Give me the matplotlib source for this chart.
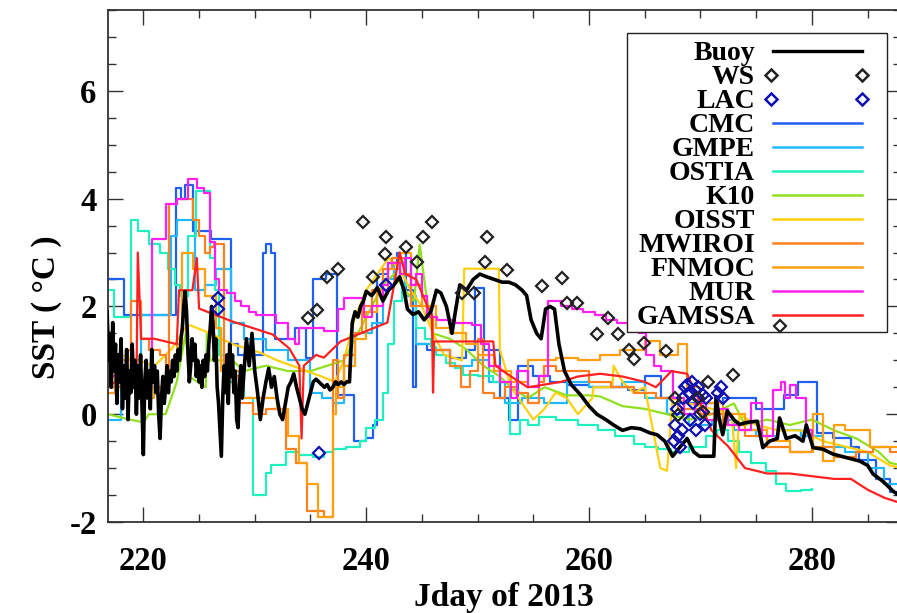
import numpy as np
import matplotlib
matplotlib.use("Agg")
import matplotlib.pyplot as plt
from matplotlib.patches import Rectangle

# ---- data ------------------------------------------------------------------
# buoy, noisiest part (every 0.125 day from day 216.75)
buoy_start_a = 216.75
buoy_sst_a = [1.9, 1.0, 1.5, 0.5, 1.7, 0.8, 1.3, 0.2, 1.1, 0.6,
              1.4, 0.1, 0.9, 0.3, 1.2, -0.1, 0.8, 0.4, 1.3, 0.5,
              1.0, 0.0, 0.9, 0.3, 1.1, 0.2, -0.75, 0.6, 1.0, 0.3,
              0.8, 0.1, 1.2, 0.6, 0.9, 0.4, 0.8, 0.0, -0.45, 0.3,
              0.7, 0.2, 0.5, 0.9, 0.4, 0.8, 0.6, 1.0, 0.7, 1.1,
              0.8, 1.2, 1.0, 1.4, 1.6, 2.0, 2.28, 1.9, 1.2, 0.6,
              0.9, 1.4, 1.0, 1.3, 0.7, 1.0, 0.6, 0.9, 0.5, 1.0,
              0.7, 1.1, 0.8, 1.3, 1.6, 2.0, 1.7, 1.0, 1.4, 0.5,
              0.2, -0.3, -0.78, 0.3, 0.9, 0.4, 1.1, 0.2, 1.3, 0.7,
              1.1, 0.4, 0.8, -0.1, -0.25, 0.5, 0.9, 0.3, 0.7]
# buoy, every 0.25 day from day 229.25
buoy_start_b = 229.25
buoy_sst_b = [1.4, 0.9, 1.5, 0.8, 0.4, -0.1, 0.3, 0.6, 0.85, 0.5,
              0.7, 0.3, 0.0, -0.1, 0.2, 0.5, 0.6, 0.75, 0.5, 0.3,
              0.1, 0.0, 0.2, 0.4, 0.6, 0.65, 0.6, 0.55, 0.5, 0.55,
              0.45, 0.5, 0.6, 0.55, 0.6, 0.55, 0.6, 0.6, 1.7, 1.9,
              1.8, 2.0, 2.1, 2.28]
# buoy, rest of the record
buoy_day_c = [240.5, 241.0, 241.5, 242.0, 242.5, 243.0, 243.4, 243.7, 244.2, 244.7,
              245.2, 245.8, 246.3, 246.7, 247.2, 247.7, 248.0, 248.4, 249.0, 249.6,
              250.2, 250.8, 251.5, 252.2, 252.8, 253.4, 254.0, 254.4, 254.8, 255.3,
              255.7, 256.1, 256.5, 256.9, 257.3, 257.8, 258.4, 259.2, 260.0, 260.7,
              261.5, 262.2, 263.0, 263.8, 264.6, 265.5, 266.1, 266.8, 267.5, 268.2,
              268.8, 269.4, 269.9, 270.5, 271.2, 271.4, 271.7, 272.0, 272.4, 273.0,
              273.5, 274.2, 275.1, 275.6, 276.2, 276.9, 277.1, 277.7, 278.5, 279.2,
              279.5, 280.1, 281.0, 281.9, 283.0, 284.3, 285.0, 285.5, 286.4, 287.3,
              287.8]
buoy_sst_c = [2.2, 2.35, 2.1, 2.3, 2.4, 2.55, 2.3, 1.95, 1.85, 1.9,
              1.75, 1.9, 2.3, 2.25, 2.0, 1.5, 1.9, 2.4, 2.3, 2.5,
              2.6, 2.55, 2.5, 2.45, 2.45, 2.4, 2.3, 2.2, 1.75, 1.5,
              1.4, 1.95, 2.0, 1.95, 1.3, 0.8, 0.55, 0.37, 0.15, 0.0,
              -0.1, -0.2, -0.3, -0.25, -0.27, -0.35, -0.38, -0.5, -0.78, -0.6,
              -0.45, -0.7, -0.78, -0.78, -0.78, 0.33, -0.1, -0.38, 0.06, -0.1,
              -0.19, -0.15, -0.13, -0.62, -0.5, -0.45, -0.07, -0.45, -0.4, -0.5,
              -0.2, -0.62, -0.65, -0.74, -0.8, -0.87, -0.95, -1.11, -1.25, -1.43,
              -1.5]

ws_day = [234.8, 235.6, 236.5, 237.5, 239.7, 240.6, 241.7, 241.8, 243.6, 244.6,
          245.1, 245.9, 248.6, 249.7, 250.7, 250.8, 252.6, 255.8, 257.6, 258.0,
          258.9, 260.7, 261.7, 262.6, 263.6, 264.0, 264.9, 266.9, 267.7, 268.0,
          269.8, 270.2, 270.7, 272.9, 277.1]
ws_sst = [1.78, 1.94, 2.54, 2.7, 3.57, 2.54, 2.98, 3.28, 3.11, 2.83,
          3.28, 3.57, 2.24, 2.24, 2.83, 3.28, 2.68, 2.37, 2.52, 2.06,
          2.06, 1.48, 1.78, 1.48, 1.2, 1.02, 1.33, 1.18, 0.3, -0.02,
          0.3, 0.05, 0.6, 0.72, 1.63]

lac_day = [226.7, 226.7, 235.8, 241.8, 267.6, 267.7, 267.9, 268.0, 268.2, 268.3,
           268.4, 268.6, 268.8, 269.0, 269.1, 269.2, 269.3, 269.5, 269.6, 269.8,
           270.0, 270.2, 270.4, 270.5, 271.6, 271.8, 272.0]
lac_sst = [2.15, 1.96, -0.72, 2.4, -0.5, -0.2, 0.1, -0.4, -0.6, -0.3,
           0.3, 0.5, 0.55, 0.4, -0.1, 0.6, 0.2, 0.45, -0.3, 0.5,
           0.0, 0.35, -0.2, 0.3, 0.4, 0.5, 0.3]

cmc_day = [216.8, 218.3, 222.9, 223.4, 223.7, 224.5, 226.1, 227.9, 228.5, 230.7,
           231.0, 231.5, 231.8, 233.6, 234.6, 235.2, 236.4, 237.4, 238.9, 240.0,
           240.6, 241.0, 242.0, 242.8, 243.6, 244.2, 244.5, 245.5, 247.5, 249.0,
           249.8, 250.6, 252.0, 252.8, 253.6, 255.0, 256.5, 258.0, 260.0, 263.5,
           265.0, 266.5, 268.0, 272.0, 275.0, 277.5, 278.8, 280.5, 281.9, 283.5,
           284.2, 285.8, 287.0, 288.0]
cmc_sst = [2.5, 1.85, 4.2, 4.0, 4.25, 3.4, 3.25, 1.3, 1.1, 3.0,
           3.15, 3.0, 1.4, 1.6, 1.05, 2.5, 2.6, 0.36, -0.5, -0.45,
           -0.2, 2.6, 2.8, 3.0, 2.3, 0.5, 1.3, 1.2, 1.05, 1.2,
           2.35, 1.2, 0.3, -0.1, 0.9, 0.7, 0.6, 0.55, 0.5, 0.45,
           0.7, 0.3, 0.2, 0.3, 0.1, 0.35, 0.6, -0.35, -0.45, -0.6,
           -0.85, -1.2, -1.45, -1.5]

gmpe_day = [216.8, 218.0, 219.0, 219.8, 222.5, 223.0, 224.6, 225.5, 226.5, 227.9,
            229.0, 231.0, 233.0, 235.0, 236.0, 237.0, 238.0, 239.0, 240.5, 241.5,
            242.5, 243.5, 244.5, 246.0, 247.5, 249.5, 251.0, 252.5, 254.0, 256.0,
            258.0, 260.0, 263.0, 265.0, 267.0, 269.0, 271.0, 273.0, 275.0, 277.0,
            279.0, 281.0, 283.0, 285.0, 286.5, 288.0]
gmpe_sst = [-0.1, 0.5, 1.0, 1.85, 3.3, 3.6, 2.3, 2.4, 2.7, 1.7,
            1.4, 1.2, 1.0, 0.4, 0.3, 0.2, 0.9, 1.5, 1.7, 2.5,
            2.8, 2.2, 1.3, 1.2, 0.9, 1.0, 0.6, 0.2, 0.3, 0.2,
            0.6, 0.5, 0.6, 0.3, 0.0, -0.2, -0.1, -0.3, -0.4, -0.3,
            -0.4, -0.6, -0.7, -1.0, -1.3, -1.5]

ostia_day = [216.8, 217.4, 218.9, 219.5, 220.5, 221.5, 222.2, 222.8, 223.3, 224.0,
             224.7, 226.0, 226.4, 226.8, 227.5, 228.2, 229.0, 229.8, 231.0, 231.5,
             232.8, 234.0, 235.2, 236.2, 237.0, 238.2, 239.4, 240.0, 240.8, 241.5,
             242.0, 242.5, 243.2, 244.0, 244.5, 245.3, 245.8, 246.3, 247.2, 248.0,
             248.7, 250.0, 251.4, 252.9, 253.8, 254.5, 255.5, 257.0, 259.0, 260.8,
             262.3, 264.0, 265.0, 266.2, 267.4, 269.0, 270.5, 271.5, 272.5, 273.5,
             274.5, 275.9, 276.8, 277.7, 279.0, 280.0]
ostia_sst = [2.3, 1.8, 3.6, 3.4, 3.15, 3.0, 2.7, 2.4, 2.2, 3.3,
             4.15, 2.9, 2.3, 1.1, 0.6, 0.5, 0.3, -1.5, -1.1, -0.95,
             -0.7, -0.75, -0.8, -0.7, -0.65, -0.6, -0.5, -0.25, -0.1, 0.4,
             1.3, 2.1, 2.4, 2.0, 1.6, 1.4, 1.25, 1.1, 0.95, 0.85,
             0.72, 0.7, 0.6, -0.37, -0.1, -0.2, -0.05, -0.1, -0.2, -0.3,
             -0.4, -0.55, -0.6, -0.65, -0.7, -0.6, -0.4, -0.3, -0.5, -0.7,
             -0.9, -1.06, -1.3, -1.42, -1.4, -1.38]

k10_day = [216.8, 218.8, 220.0, 220.5, 222.0, 223.0, 223.8, 224.1, 225.6, 225.7,
           226.0, 228.0, 229.0, 231.0, 233.0, 235.0, 236.5, 238.0, 239.5, 240.5,
           241.5, 242.5, 243.5, 244.3, 244.8, 245.4, 246.0, 247.5, 249.0, 250.5,
           252.0, 253.0, 254.5, 256.0, 258.0, 260.0, 261.0, 263.0, 265.0, 267.0,
           269.0, 271.0, 273.0, 274.0, 276.0, 278.0, 280.0, 282.0, 284.0, 286.0,
           287.0, 288.0]
k10_sst = [0.0, -0.1, -0.15, 0.0, 0.0, 0.6, 1.5, 0.7, 0.5, 1.5,
           1.0, 1.0, 0.8, 0.9, 0.8, 0.8, 0.9, 1.0, 1.6, 2.0,
           2.4, 2.6, 2.3, 2.1, 3.15, 2.2, 1.5, 1.4, 1.2, 0.9,
           0.7, 0.5, 0.3, 0.5, 0.35, 0.35, 0.33, 0.15, 0.1, 0.0,
           -0.1, 0.0, 0.2, -0.2, -0.1, -0.2, -0.1, -0.3, -0.45, -0.7,
           -0.9, -0.95]

oisst_day = [216.8, 218.0, 219.5, 221.0, 222.5, 223.8, 224.2, 226.0, 228.0, 230.4,
             232.0, 234.0, 236.0, 237.2, 238.0, 239.0, 240.0, 241.0, 242.0, 243.0,
             244.0, 245.0, 246.0, 247.0, 248.6, 248.8, 251.9, 252.0, 253.0, 254.0,
             255.0, 256.0, 257.0, 258.0, 259.0, 260.3, 260.4, 262.1, 262.2, 263.0,
             264.0, 265.0, 266.4, 267.0, 267.5, 269.0, 271.0, 272.8, 273.2, 273.5,
             275.0, 277.0, 279.0, 281.0, 283.0, 285.0, 287.0, 288.0]
oisst_sst = [1.0, 1.1, 1.0, 0.9, 1.2, 1.6, 1.65, 1.5, 1.3, 1.15,
             1.0, 0.85, 0.7, 0.6, 1.0, 1.8, 2.3, 2.6, 2.9, 2.7,
             2.3, 2.0, 1.5, 1.1, 1.0, 2.7, 2.7, 1.2, 0.5, 0.2,
             -0.1, 0.1, 0.4, 0.3, 0.0, 0.3, 0.5, 0.5, 0.9, 0.6,
             0.4, 0.5, -1.0, -1.05, 0.3, 0.2, 0.1, 0.0, -1.0, 0.0,
             -0.2, -0.3, -0.3, -0.5, -0.6, -0.7, -0.95, -1.0]

mwiroi_day = [216.8, 218.6, 218.9, 219.8, 220.5, 221.5, 222.0, 222.3, 223.0, 224.5,
              225.0, 225.5, 226.0, 226.3, 227.2, 228.6, 229.8, 231.0, 232.8, 233.7,
              234.7, 236.2, 237.0, 237.5, 238.0, 239.0, 239.6, 240.5, 241.5, 242.3,
              243.5, 244.0, 245.5, 246.0, 247.5, 248.5, 249.3, 250.0, 250.5, 251.5,
              252.5, 253.5, 254.5, 255.5, 256.0, 257.0, 258.0, 260.0, 262.0, 264.0,
              266.0, 268.0, 270.0, 272.0, 274.0, 276.0, 278.0, 280.0, 282.0, 284.0,
              285.5, 287.0, 288.0]
mwiroi_sst = [0.5, 1.2, 2.1, 1.4, 1.2, 1.1, 0.8, 3.9, 4.0, 3.6,
              3.3, 3.0, 3.1, 3.15, 0.7, 0.2, 0.0, 0.1, -0.65, -0.9,
              -1.8, -1.9, 1.0, 0.3, 1.1, 1.5, 2.0, 2.3, 2.7, 2.9,
              2.6, 2.0, 1.8, 1.2, 0.9, 0.5, 0.8, 1.4, 0.4, 0.3,
              0.5, 0.4, 0.2, 0.6, 0.9, 0.8, 0.8, 0.6, 0.5, 0.4,
              0.3, 0.1, 0.0, -0.2, -0.4, -0.6, -0.7, -0.6, -0.8, -0.7,
              -0.6, -0.7, -0.8]

fnmoc_day = [216.8, 217.5, 219.0, 220.0, 221.0, 222.0, 223.0, 223.5, 224.5, 225.5,
             226.5, 227.0, 228.9, 231.0, 232.0, 233.0, 234.0, 234.7, 235.7, 237.0,
             237.3, 238.0, 239.0, 240.0, 241.0, 242.0, 243.0, 244.0, 245.0, 246.3,
             247.5, 249.0, 250.0, 251.5, 253.0, 254.5, 256.0, 257.0, 259.0, 261.0,
             262.8, 265.0, 266.4, 268.0, 268.8, 270.0, 272.0, 274.0, 276.0, 278.0,
             280.1, 281.0, 282.0, 283.0, 285.2, 288.0]
fnmoc_sst = [0.4, 1.0, 0.5, 0.3, 0.5, 0.8, 1.3, 3.0, 2.7, 2.2,
             1.6, 0.8, 0.3, 0.3, 0.1, -0.4, -0.9, -1.3, -1.9, 0.0,
             0.5, 0.9, 1.4, 1.9, 2.3, 2.7, 3.0, 2.4, 2.0, 1.6,
             1.5, 1.3, 1.1, 0.8, 0.6, 1.0, 1.0, 1.05, 1.0, 1.1,
             1.2, 1.35, 1.1, 1.3, 0.5, 0.2, 0.0, -0.3, -0.5, -0.7,
             0.0, -0.87, -0.2, -0.3, -0.6, -0.7]

mur_day = [216.8, 219.5, 220.3, 220.8, 222.0, 223.0, 224.0, 224.8, 225.4, 226.0,
           226.4, 226.8, 227.5, 228.2, 228.8, 229.5, 230.1, 231.9, 233.0, 233.6,
           234.0, 236.2, 237.5, 238.0, 239.8, 240.5, 241.5, 242.0, 243.0, 243.5,
           244.0, 244.5, 245.0, 245.5, 246.4, 248.0, 249.5, 250.3, 251.0, 252.0,
           253.0, 253.5, 254.5, 255.5, 256.3, 257.5, 258.5, 259.5, 260.5, 261.5,
           262.5, 263.5, 264.5, 265.1, 265.8, 266.5, 267.5, 268.5, 269.5, 270.5,
           271.5, 272.5, 273.5, 274.5, 275.5, 276.5, 277.2, 277.6, 278.0, 278.6,
           279.5, 280.0]
mur_sst = [0.7, 0.55, 0.6, 3.25, 3.9, 4.0, 4.37, 4.2, 4.1, 3.2,
           2.5, 2.3, 2.25, 2.1, 2.0, 1.9, 1.85, 1.7, 1.4, 1.3,
           1.6, 1.54, 1.95, 2.15, 1.8, 2.0, 2.4, 2.8, 2.6, 2.9,
           2.4, 2.6, 2.2, 1.8, 1.75, 1.7, 1.65, 1.3, 0.9, 0.6,
           0.3, 0.8, 0.5, 0.7, 2.1, 2.0, 1.95, 1.9, 1.85, 1.75,
           1.7, 1.6, 1.5, 1.1, 0.9, 0.8, 0.3, 0.0, 0.2, -0.1,
           0.1, -0.2, -0.3, 0.2, -0.4, 0.45, 0.6, 0.3, 0.55, 0.3,
           -0.3, -0.4]

gamssa_day = [216.8, 219.4, 219.5, 219.8, 221.0, 223.0, 223.2, 224.4, 224.8, 225.0,
              228.0, 231.6, 233.1, 234.0, 234.2, 234.4, 235.5, 236.2, 237.7, 241.9,
              242.5, 243.0, 243.5, 244.5, 245.5, 245.9, 246.0, 246.1, 251.4, 251.6,
              253.0, 254.5, 256.0, 257.5, 259.0, 261.0, 263.0, 265.0, 266.0, 267.4,
              268.8, 270.0, 271.0, 272.5, 274.0, 276.0, 278.0, 280.0, 282.0, 283.5,
              285.0, 286.5, 288.0]
gamssa_sst = [0.5, 0.9, 3.0, 1.4, 1.4, 1.3, 2.3, 2.3, 2.9, 1.96,
              1.72, 1.48, 1.22, 0.9, -0.45, 0.9, 1.1, 1.05, 1.35, 1.7,
              2.4, 3.0, 2.6, 2.5, 2.0, 1.85, 0.4, 1.35, 1.35, 0.9,
              0.7, 0.5, 0.55, 0.6, 0.7, 0.75, 0.7, 0.6, 0.5, 0.8,
              0.75, 0.2, -0.3, -0.6, -1.0, -1.1, -1.1, -1.15, -1.2, -1.2,
              -1.4, -1.55, -1.65]

# ---- figure ---------------------------------------------------------------
plt.rcParams['font.family'] = ['Liberation Serif', 'DejaVu Serif']
plt.rcParams['font.weight'] = 'bold'
plt.rcParams['axes.unicode_minus'] = False

W, H = 897, 613
fig = plt.figure(figsize=(W / 100, H / 100), dpi=100)
ax_l, ax_r, ax_t, ax_b = 107.7, 901.0, 10.0, 522.0
ax = fig.add_axes([ax_l / W, 1 - ax_b / H, (ax_r - ax_l) / W, (ax_b - ax_t) / H])

models = [
    ("CMC", cmc_day, cmc_sst, "#2060f0", "steps-post"),
    ("GMPE", gmpe_day, gmpe_sst, "#20b8ff", "steps-post"),
    ("OSTIA", ostia_day, ostia_sst, "#20f0c0", "steps-post"),
    ("K10", k10_day, k10_sst, "#90e020", "default"),
    ("OISST", oisst_day, oisst_sst, "#ffd010", "default"),
    ("MWIROI", mwiroi_day, mwiroi_sst, "#ff8020", "steps-post"),
    ("FNMOC", fnmoc_day, fnmoc_sst, "#ffa010", "steps-post"),
    ("MUR", mur_day, mur_sst, "#ff20f0", "steps-post"),
    ("GAMSSA", gamssa_day, gamssa_sst, "#ff2020", "default"),
]
for name, d, v, c, ds in models:
    ax.plot(d, v, color=c, lw=1.6, drawstyle=ds, zorder=2)

buoy_day = (list(buoy_start_a + 0.125 * np.arange(len(buoy_sst_a)))
            + list(buoy_start_b + 0.25 * np.arange(len(buoy_sst_b)))
            + buoy_day_c)
buoy_sst = buoy_sst_a + buoy_sst_b + buoy_sst_c
ax.plot(buoy_day, buoy_sst, color="black", lw=2.6, zorder=3)

ax.plot(ws_day, ws_sst, ls="none", marker="D", ms=6, mfc="none",
        mec="#222222", mew=1.6, zorder=6)
ax.plot(lac_day, lac_sst, ls="none", marker="D", ms=6, mfc="none",
        mec="#1010b0", mew=1.6, zorder=4)

ax.set_xlim(216.8, 288.0)
ax.set_ylim(-2.0, 7.5)
ax.set_xticks([220, 240, 260, 280])
ax.set_xticks(np.arange(225, 290, 5), minor=True)
ax.set_yticks([-2, 0, 2, 4, 6])
ax.set_yticks(np.arange(-1.5, 7.6, 0.5), minor=True)
ax.tick_params(which="both", direction="in", top=True, right=True,
               width=1.0, color="#333333")
ax.tick_params(which="major", length=11)
ax.tick_params(which="minor", length=5.5)
ax.tick_params(axis="x", labelsize=23.5, pad=17)
ax.tick_params(axis="y", labelsize=23.5, pad=8)
for s in ax.spines.values():
    s.set_linewidth(1.3)
    s.set_color("#333333")

ax.set_xlabel("Jday of 2013", fontsize=24, fontweight="bold", labelpad=4)
ax.set_ylabel("SST ( °C )", fontsize=24, fontweight="bold")
ax.yaxis.set_label_coords(-0.058, 0.42)


# ---- hand-built legend (labels right-aligned, handles on the right) --------
def px(x, y):
    return ((x - ax_l) / (ax_r - ax_l), (ax_b - y) / (ax_b - ax_t))


x0, y0 = px(627, 332)
x1, y1 = px(887, 33)
ax.add_patch(Rectangle((x0, y0), x1 - x0, y1 - y0, transform=ax.transAxes,
                       facecolor="white", edgecolor="#222222", lw=1.0, zorder=5))

entries = [("Buoy", "black", None), ("WS", "#222222", "D"), ("LAC", "#1010b0", "D")]
entries += [(m[0], m[3], None) for m in models]
for i, (lab, c, mk) in enumerate(entries):
    ry = 51 + 24 * i
    tx, ty = px(755, ry)
    ax.text(tx, ty, lab, transform=ax.transAxes, ha="right", va="center_baseline",
            fontsize=20, fontweight="bold", zorder=6)
    if mk is None:
        a, b = px(773, ry)
        e, _ = px(862, ry)
        ax.plot([a, e], [b, b], color=c, lw=2.4 if lab == "Buoy" else 1.8,
                transform=ax.transAxes, zorder=6, clip_on=False)
    else:
        a, b = px(771, ry)
        e, _ = px(862, ry)
        ax.plot([a, e], [b, b], ls="none", marker="D", ms=6, mfc="none", mec=c,
                mew=1.8, transform=ax.transAxes, zorder=6, clip_on=False)

fig.savefig("out.png", dpi=100)
